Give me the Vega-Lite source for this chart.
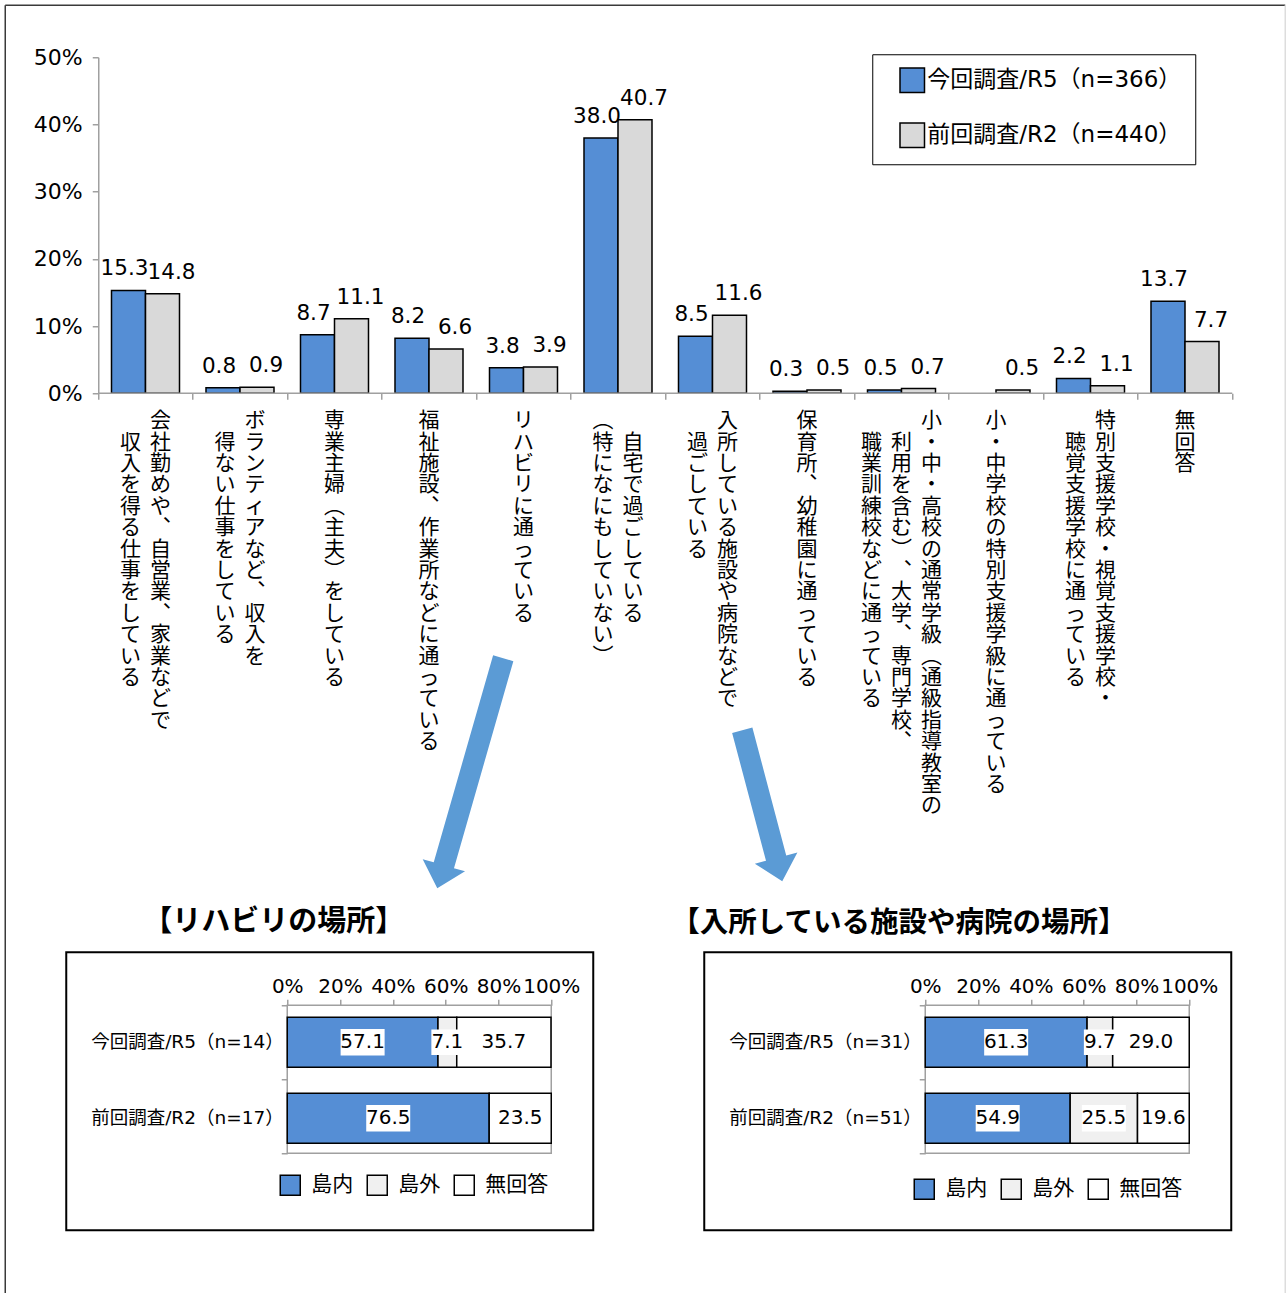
{
  "$schema": "https://vega.github.io/schema/vega-lite/v6.json",
  "background": "white",
  "padding": {"left": 4.25, "top": 4.25, "right": 0, "bottom": 0},
  "config": {
    "font": "DejaVu Sans, Noto Sans CJK JP",
    "view": {"stroke": null},
    "axis": {"labelColor": "#000000", "tickColor": "#a0a0a0", "domainColor": "#a0a0a0", "tickWidth": 1.5, "domainWidth": 1.5, "labelOverlap": false, "labelFlush": false, "labelBound": false, "grid": false},
    "legend": {"labelColor": "#000000"}
  },
  "datasets": {
    "top": [
      {"item": "会社勤めや、自営業、家業などで収入を得る仕事をしている", "series": "今回調査/R5（n=366）", "value": 15.3},
      {"item": "会社勤めや、自営業、家業などで収入を得る仕事をしている", "series": "前回調査/R2（n=440）", "value": 14.8},
      {"item": "ボランティアなど、収入を得ない仕事をしている", "series": "今回調査/R5（n=366）", "value": 0.8},
      {"item": "ボランティアなど、収入を得ない仕事をしている", "series": "前回調査/R2（n=440）", "value": 0.9},
      {"item": "専業主婦（主夫）をしている", "series": "今回調査/R5（n=366）", "value": 8.7},
      {"item": "専業主婦（主夫）をしている", "series": "前回調査/R2（n=440）", "value": 11.1},
      {"item": "福祉施設、作業所などに通っている", "series": "今回調査/R5（n=366）", "value": 8.2},
      {"item": "福祉施設、作業所などに通っている", "series": "前回調査/R2（n=440）", "value": 6.6},
      {"item": "リハビリに通っている", "series": "今回調査/R5（n=366）", "value": 3.8},
      {"item": "リハビリに通っている", "series": "前回調査/R2（n=440）", "value": 3.9},
      {"item": "自宅で過ごしている（特になにもしていない）", "series": "今回調査/R5（n=366）", "value": 38.0},
      {"item": "自宅で過ごしている（特になにもしていない）", "series": "前回調査/R2（n=440）", "value": 40.7},
      {"item": "入所している施設や病院などで過ごしている", "series": "今回調査/R5（n=366）", "value": 8.5},
      {"item": "入所している施設や病院などで過ごしている", "series": "前回調査/R2（n=440）", "value": 11.6},
      {"item": "保育所、幼稚園に通っている", "series": "今回調査/R5（n=366）", "value": 0.3},
      {"item": "保育所、幼稚園に通っている", "series": "前回調査/R2（n=440）", "value": 0.5},
      {"item": "小・中・高校の通常学級（通級指導教室の利用を含む）、大学、専門学校、職業訓練校などに通っている", "series": "今回調査/R5（n=366）", "value": 0.5},
      {"item": "小・中・高校の通常学級（通級指導教室の利用を含む）、大学、専門学校、職業訓練校などに通っている", "series": "前回調査/R2（n=440）", "value": 0.7},
      {"item": "小・中学校の特別支援学級に通っている", "series": "前回調査/R2（n=440）", "value": 0.5},
      {"item": "特別支援学校・視覚支援学校・聴覚支援学校に通っている", "series": "今回調査/R5（n=366）", "value": 2.2},
      {"item": "特別支援学校・視覚支援学校・聴覚支援学校に通っている", "series": "前回調査/R2（n=440）", "value": 1.1},
      {"item": "無回答", "series": "今回調査/R5（n=366）", "value": 13.7},
      {"item": "無回答", "series": "前回調査/R2（n=440）", "value": 7.7}
    ],
    "labels": [
      {"item": "会社勤めや、自営業、家業などで収入を得る仕事をしている", "line": 0, "t": "会社勤めや、自営業、家業などで"},
      {"item": "会社勤めや、自営業、家業などで収入を得る仕事をしている", "line": 1, "t": "収入を得る仕事をしている"},
      {"item": "ボランティアなど、収入を得ない仕事をしている", "line": 0, "t": "ボランティアなど、収入を"},
      {"item": "ボランティアなど、収入を得ない仕事をしている", "line": 1, "t": "得ない仕事をしている"},
      {"item": "専業主婦（主夫）をしている", "line": 0, "t": "専業主婦（主夫）をしている"},
      {"item": "福祉施設、作業所などに通っている", "line": 0, "t": "福祉施設、作業所などに通っている"},
      {"item": "リハビリに通っている", "line": 0, "t": "リハビリに通っている"},
      {"item": "自宅で過ごしている（特になにもしていない）", "line": 0, "t": "自宅で過ごしている"},
      {"item": "自宅で過ごしている（特になにもしていない）", "line": 1, "t": "（特になにもしていない）"},
      {"item": "入所している施設や病院などで過ごしている", "line": 0, "t": "入所している施設や病院などで"},
      {"item": "入所している施設や病院などで過ごしている", "line": 1, "t": "過ごしている"},
      {"item": "保育所、幼稚園に通っている", "line": 0, "t": "保育所、幼稚園に通っている"},
      {"item": "小・中・高校の通常学級（通級指導教室の利用を含む）、大学、専門学校、職業訓練校などに通っている", "line": 0, "t": "小・中・高校の通常学級（通級指導教室の"},
      {"item": "小・中・高校の通常学級（通級指導教室の利用を含む）、大学、専門学校、職業訓練校などに通っている", "line": 1, "t": "利用を含む）、大学、専門学校、"},
      {"item": "小・中・高校の通常学級（通級指導教室の利用を含む）、大学、専門学校、職業訓練校などに通っている", "line": 2, "t": "職業訓練校などに通っている"},
      {"item": "小・中学校の特別支援学級に通っている", "line": 0, "t": "小・中学校の特別支援学級に通っている"},
      {"item": "特別支援学校・視覚支援学校・聴覚支援学校に通っている", "line": 0, "t": "特別支援学校・視覚支援学校・"},
      {"item": "特別支援学校・視覚支援学校・聴覚支援学校に通っている", "line": 1, "t": "聴覚支援学校に通っている"},
      {"item": "無回答", "line": 0, "t": "無回答"}
    ],
    "rehab": [
      {"group": "今回調査/R5（n=14）", "cat": "島内", "value": 57.1},
      {"group": "今回調査/R5（n=14）", "cat": "島外", "value": 7.1},
      {"group": "今回調査/R5（n=14）", "cat": "無回答", "value": 35.7},
      {"group": "前回調査/R2（n=17）", "cat": "島内", "value": 76.5},
      {"group": "前回調査/R2（n=17）", "cat": "無回答", "value": 23.5}
    ],
    "facility": [
      {"group": "今回調査/R5（n=31）", "cat": "島内", "value": 61.3},
      {"group": "今回調査/R5（n=31）", "cat": "島外", "value": 9.7},
      {"group": "今回調査/R5（n=31）", "cat": "無回答", "value": 29.0},
      {"group": "前回調査/R2（n=51）", "cat": "島内", "value": 54.9},
      {"group": "前回調査/R2（n=51）", "cat": "島外", "value": 25.5},
      {"group": "前回調査/R2（n=51）", "cat": "無回答", "value": 19.6}
    ]
  },
  "bounds": "flush",
  "spacing": 559,
  "resolve": {"scale": {"color": "independent"}, "legend": {"color": "independent"}},
  "vconcat": [
    {
      "width": 1166,
      "height": 336,
      "resolve": {"scale": {"x": "independent"}},
      "layer": [
        {
          "layer": [
            {
              "data": {"name": "top"},
              "mark": {"type": "bar", "stroke": "#000000", "strokeWidth": 1.5},
              "encoding": {
                "x": {"field": "item", "type": "nominal", "scale": {"domain": ["会社勤めや、自営業、家業などで収入を得る仕事をしている", "ボランティアなど、収入を得ない仕事をしている", "専業主婦（主夫）をしている", "福祉施設、作業所などに通っている", "リハビリに通っている", "自宅で過ごしている（特になにもしていない）", "入所している施設や病院などで過ごしている", "保育所、幼稚園に通っている", "小・中・高校の通常学級（通級指導教室の利用を含む）、大学、専門学校、職業訓練校などに通っている", "小・中学校の特別支援学級に通っている", "特別支援学校・視覚支援学校・聴覚支援学校に通っている", "無回答"], "paddingInner": 0.28042, "paddingOuter": 0.30952, "align": 0.7735},
                  "axis": {"orient": "bottom", "title": null, "labels": false, "domain": false, "ticks": false}},
                "xOffset": {"field": "series", "type": "nominal", "scale": {"domain": ["今回調査/R5（n=366）", "前回調査/R2（n=440）"], "paddingInner": 0, "paddingOuter": 0}},
                "y": {"field": "value", "type": "quantitative", "scale": {"domain": [0, 50], "nice": false, "zero": false},
                  "axis": {"orient": "left", "title": null, "offset": -32, "values": [0, 10, 20, 30, 40, 50], "labelExpr": "datum.value + '%'", "tickSize": 6, "labelFontSize": 22, "labelPadding": 10}},
                "color": {"field": "series", "type": "nominal", "scale": {"domain": ["今回調査/R5（n=366）", "前回調査/R2（n=440）"], "range": ["#558ed5", "#d9d9d9"]},
                  "legend": {"orient": "none", "legendX": 806, "legendY": -3, "direction": "vertical", "title": null, "strokeColor": "#000000", "padding": 13, "symbolType": "square", "symbolSize": 600, "symbolStrokeColor": "#000000", "symbolStrokeWidth": 1.5, "symbolOffset": 14, "labelOffset": 2, "labelFontSize": 23, "labelLimit": 400, "rowPadding": 23, "labelExpr": "datum.label + '　'"}}
              }
            },
            {
              "data": {"name": "top"},
              "transform": [{"filter": "datum.series == '今回調査/R5（n=366）'"}],
              "mark": {"type": "text", "baseline": "alphabetic", "dy": -15, "dx": -4, "fontSize": 21.5, "color": "#000000"},
              "encoding": {
                "x": {"field": "item", "type": "nominal"},
                "xOffset": {"field": "series", "type": "nominal"},
                "y": {"field": "value", "type": "quantitative"},
                "text": {"field": "value", "type": "quantitative", "format": ".1f"}
              }
            },
            {
              "data": {"name": "top"},
              "transform": [{"filter": "datum.series == '前回調査/R2（n=440）'"}],
              "mark": {"type": "text", "baseline": "alphabetic", "dy": -15, "dx": 9, "fontSize": 21.5, "color": "#000000"},
              "encoding": {
                "x": {"field": "item", "type": "nominal"},
                "xOffset": {"field": "series", "type": "nominal"},
                "y": {"field": "value", "type": "quantitative"},
                "text": {"field": "value", "type": "quantitative", "format": ".1f"}
              }
            },
            {
              "data": {"name": "labels"},
              "transform": [
                {"calculate": "length(datum.t)", "as": "len"},
                {"joinaggregate": [{"op": "max", "field": "len", "as": "maxlen"}, {"op": "count", "as": "ncols"}], "groupby": ["item"]},
                {"calculate": "(datum.ncols - 1) / 2 - datum.line", "as": "off"},
                {"calculate": "split(pad('', floor((datum.maxlen - datum.len) / 2), '　') + replace(replace(replace(datum.t, regexp('、', 'g'), '︑'), regexp('（', 'g'), '︵'), regexp('）', 'g'), '︶'), '')", "as": "vt"}
              ],
              "encoding": {
                "x": {"field": "item", "type": "nominal"},
                "y": {"datum": 0, "type": "quantitative"},
                "text": {"field": "vt", "type": "nominal"}
              },
              "layer": [
                {"transform": [{"filter": "datum.off == 1"}], "mark": {"type": "text", "font": "Noto Sans CJK JP", "fontSize": 21, "lineHeight": 21.4, "baseline": "top", "align": "center", "dy": 17, "dx": 30, "color": "#000000"}},
                {"transform": [{"filter": "datum.off == 0.5"}], "mark": {"type": "text", "font": "Noto Sans CJK JP", "fontSize": 21, "lineHeight": 21.4, "baseline": "top", "align": "center", "dy": 17, "dx": 15, "color": "#000000"}},
                {"transform": [{"filter": "datum.off == 0"}], "mark": {"type": "text", "font": "Noto Sans CJK JP", "fontSize": 21, "lineHeight": 21.4, "baseline": "top", "align": "center", "dy": 17, "dx": 0, "color": "#000000"}},
                {"transform": [{"filter": "datum.off == -0.5"}], "mark": {"type": "text", "font": "Noto Sans CJK JP", "fontSize": 21, "lineHeight": 21.4, "baseline": "top", "align": "center", "dy": 17, "dx": -15, "color": "#000000"}},
                {"transform": [{"filter": "datum.off == -1"}], "mark": {"type": "text", "font": "Noto Sans CJK JP", "fontSize": 21, "lineHeight": 21.4, "baseline": "top", "align": "center", "dy": 17, "dx": -30, "color": "#000000"}}
              ]
            }
          ]
        },
        {
          "data": {"values": [{}]},
          "layer": [
            {
              "mark": {"type": "rule", "color": "#a0a0a0", "strokeWidth": 1.5},
              "encoding": {
                "x": {"datum": 0, "type": "quantitative", "scale": {"domain": [-0.33862, 12], "nice": false, "zero": false},
                  "axis": {"orient": "bottom", "title": null, "values": [0, 1, 2, 3, 4, 5, 6, 7, 8, 9, 10, 11, 12], "labels": false, "domain": false, "ticks": true, "tickSize": 6, "grid": false}},
                "x2": {"datum": 12},
                "y": {"datum": 0, "type": "quantitative"}
              }
            },
            {
              "mark": {"type": "rule", "color": "#3a3a3a", "strokeWidth": 1.5},
              "encoding": {
                "x": {"datum": -0.98413, "type": "quantitative", "scale": {"domain": [-0.33862, 12], "nice": false, "zero": false}},
                "x2": {"datum": 12.561},
                "y": {"datum": 57.738, "type": "quantitative"}
              }
            },
            {
              "mark": {"type": "rule", "color": "#3a3a3a", "strokeWidth": 1.5},
              "encoding": {
                "x": {"datum": -0.98413, "type": "quantitative", "scale": {"domain": [-0.33862, 12], "nice": false, "zero": false}},
                "y": {"datum": 57.738, "type": "quantitative"},
                "y2": {"datum": -134}
              }
            },
            {
              "mark": {"type": "rule", "color": "#dddddd", "strokeWidth": 1.5},
              "encoding": {
                "x": {"datum": 12.561, "type": "quantitative", "scale": {"domain": [-0.33862, 12], "nice": false, "zero": false}},
                "y": {"datum": 57.738, "type": "quantitative"},
                "y2": {"datum": -134}
              }
            },
            {
              "mark": {"type": "point", "shape": "M-0.088,-1L0.088,-1L0.088,0.8L0.184,0.8L0,1L-0.184,0.8L-0.088,0.8Z", "size": 57264, "angle": 16, "filled": true, "color": "#5b9bd5", "opacity": 1, "strokeWidth": 0},
              "encoding": {
                "x": {"datum": 3.9365, "type": "quantitative", "scale": {"domain": [-0.33862, 12], "nice": false, "zero": false}},
                "y": {"datum": -56.548, "type": "quantitative"}
              }
            },
            {
              "mark": {"type": "point", "shape": "M-0.134,-1L0.134,-1L0.134,0.693L0.282,0.693L0,1L-0.282,0.693L-0.134,0.693Z", "size": 24398, "angle": -14.84, "filled": true, "color": "#5b9bd5", "opacity": 1, "strokeWidth": 0},
              "encoding": {
                "x": {"datum": 7.0265, "type": "quantitative", "scale": {"domain": [-0.33862, 12], "nice": false, "zero": false}},
                "y": {"datum": -61.384, "type": "quantitative"}
              }
            }
          ]
        }
      ]
    },
    {
      "bounds": "flush",
      "spacing": 111,
      "resolve": {"scale": {"color": "independent"}, "legend": {"color": "independent"}},
      "hconcat": [
        {
          "width": 527,
          "height": 278,
          "view": {"stroke": "#000000", "strokeWidth": 2},
          "title": {"text": "【リハビリの場所】", "anchor": "start", "frame": "group", "dx": 77, "offset": -14, "baseline": "bottom", "font": "Noto Sans CJK JP", "fontSize": 29, "fontWeight": "bold", "color": "#000000"},
          "resolve": {"scale": {"y": "independent"}},
          "layer": [
            {
              "data": {"values": [{}]},
              "mark": {"type": "rect", "fillOpacity": 0, "stroke": "#a0a0a0", "strokeWidth": 1.5},
              "encoding": {
                "x": {"datum": 0, "type": "quantitative", "scale": {"domain": [-83.71, 115.91], "nice": false, "zero": false}},
                "x2": {"datum": 100},
                "y": {"datum": 0, "type": "quantitative", "scale": {"domain": [-0.35811, 1.52027], "nice": false, "zero": false, "reverse": true},
                  "axis": {"orient": "left", "title": null, "offset": -221, "values": [0, 0.5, 1], "labels": false, "domain": false, "ticks": true, "tickSize": 6, "grid": false}},
                "y2": {"datum": 1}
              }
            },
            {
              "data": {"name": "rehab"},
              "transform": [
                {"calculate": "indexof(['島内', '島外', '無回答'], datum.cat)", "as": "ord"},
                {"stack": "value", "groupby": ["group"], "sort": [{"field": "ord", "order": "ascending"}], "as": ["v0", "v1"]},
                {"calculate": "(datum.v0 + datum.v1) / 2", "as": "mid"},
                {"calculate": "format(datum.value, '.1f')", "as": "lab"}
              ],
              "layer": [
                {
                  "mark": {"type": "bar", "stroke": "#000000", "strokeWidth": 1.5},
                  "encoding": {
                    "x": {"field": "v0", "type": "quantitative", "scale": {"domain": [-83.71, 115.91], "nice": false, "zero": false},
                      "axis": {"orient": "top", "title": null, "offset": -53, "values": [0, 20, 40, 60, 80, 100], "labelExpr": "datum.value + '%'", "domain": false, "tickSize": 6, "labelFontSize": 20, "labelPadding": 3}},
                    "x2": {"field": "v1"},
                    "y": {"field": "group", "type": "nominal", "sort": null, "scale": {"paddingInner": 0.34211, "paddingOuter": 1.0, "align": 0.42763},
                      "axis": {"orient": "left", "title": null, "offset": -221, "domain": false, "ticks": false, "labelFontSize": 18.5, "labelPadding": 4, "labelLimit": 300}},
                    "color": {"field": "cat", "type": "nominal", "scale": {"domain": ["島内", "島外", "無回答"], "range": ["#558ed5", "#f0f0f0", "#ffffff"]},
                      "legend": {"orient": "none", "legendX": 213, "legendY": 222, "direction": "horizontal", "title": null, "symbolType": "square", "symbolSize": 400, "symbolStrokeColor": "#000000", "symbolStrokeWidth": 1.5, "labelFontSize": 21, "labelFont": "Noto Sans CJK JP", "labelOffset": 10, "columnPadding": 11, "padding": 0}}
                  }
                },
                {
                  "transform": [{"filter": "length(datum.lab) >= 4"}],
                  "mark": {"type": "point", "shape": "M-1,-0.6L1,-0.6L1,0.6L-1,0.6Z", "size": 1936, "filled": true, "color": "#ffffff", "opacity": 1, "strokeWidth": 0},
                  "encoding": {
                    "x": {"field": "mid", "type": "quantitative"},
                    "y": {"field": "group", "type": "nominal", "sort": null}
                  }
                },
                {
                  "transform": [{"filter": "length(datum.lab) < 4"}],
                  "mark": {"type": "point", "shape": "M-1,-0.8L1,-0.8L1,0.8L-1,0.8Z", "size": 1024, "filled": true, "color": "#ffffff", "opacity": 1, "strokeWidth": 0},
                  "encoding": {
                    "x": {"field": "mid", "type": "quantitative"},
                    "y": {"field": "group", "type": "nominal", "sort": null}
                  }
                },
                {
                  "mark": {"type": "text", "fontSize": 20, "color": "#000000"},
                  "encoding": {
                    "x": {"field": "mid", "type": "quantitative"},
                    "y": {"field": "group", "type": "nominal", "sort": null},
                    "text": {"field": "lab", "type": "nominal"}
                  }
                }
              ]
            }
          ]
        },
        {
          "width": 527,
          "height": 278,
          "view": {"stroke": "#000000", "strokeWidth": 2},
          "title": {"text": "【入所している施設や病院の場所】", "anchor": "start", "frame": "group", "dx": -33, "offset": -14, "baseline": "bottom", "font": "Noto Sans CJK JP", "fontSize": 28.5, "fontWeight": "bold", "color": "#000000"},
          "resolve": {"scale": {"y": "independent"}},
          "layer": [
            {
              "data": {"values": [{}]},
              "mark": {"type": "rect", "fillOpacity": 0, "stroke": "#a0a0a0", "strokeWidth": 1.5},
              "encoding": {
                "x": {"datum": 0, "type": "quantitative", "scale": {"domain": [-83.71, 115.91], "nice": false, "zero": false}},
                "x2": {"datum": 100},
                "y": {"datum": 0, "type": "quantitative", "scale": {"domain": [-0.35811, 1.52027], "nice": false, "zero": false, "reverse": true},
                  "axis": {"orient": "left", "title": null, "offset": -221, "values": [0, 0.5, 1], "labels": false, "domain": false, "ticks": true, "tickSize": 6, "grid": false}},
                "y2": {"datum": 1}
              }
            },
            {
              "data": {"name": "facility"},
              "transform": [
                {"calculate": "indexof(['島内', '島外', '無回答'], datum.cat)", "as": "ord"},
                {"stack": "value", "groupby": ["group"], "sort": [{"field": "ord", "order": "ascending"}], "as": ["v0", "v1"]},
                {"calculate": "(datum.v0 + datum.v1) / 2", "as": "mid"},
                {"calculate": "format(datum.value, '.1f')", "as": "lab"}
              ],
              "layer": [
                {
                  "mark": {"type": "bar", "stroke": "#000000", "strokeWidth": 1.5},
                  "encoding": {
                    "x": {"field": "v0", "type": "quantitative", "scale": {"domain": [-83.71, 115.91], "nice": false, "zero": false},
                      "axis": {"orient": "top", "title": null, "offset": -53, "values": [0, 20, 40, 60, 80, 100], "labelExpr": "datum.value + '%'", "domain": false, "tickSize": 6, "labelFontSize": 20, "labelPadding": 3}},
                    "x2": {"field": "v1"},
                    "y": {"field": "group", "type": "nominal", "sort": null, "scale": {"paddingInner": 0.34211, "paddingOuter": 1.0, "align": 0.42763},
                      "axis": {"orient": "left", "title": null, "offset": -221, "domain": false, "ticks": false, "labelFontSize": 18.5, "labelPadding": 4, "labelLimit": 300}},
                    "color": {"field": "cat", "type": "nominal", "scale": {"domain": ["島内", "島外", "無回答"], "range": ["#558ed5", "#f0f0f0", "#ffffff"]},
                      "legend": {"orient": "none", "legendX": 209, "legendY": 226, "direction": "horizontal", "title": null, "symbolType": "square", "symbolSize": 400, "symbolStrokeColor": "#000000", "symbolStrokeWidth": 1.5, "labelFontSize": 21, "labelFont": "Noto Sans CJK JP", "labelOffset": 10, "columnPadding": 11, "padding": 0}}
                  }
                },
                {
                  "transform": [{"filter": "length(datum.lab) >= 4"}],
                  "mark": {"type": "point", "shape": "M-1,-0.6L1,-0.6L1,0.6L-1,0.6Z", "size": 1936, "filled": true, "color": "#ffffff", "opacity": 1, "strokeWidth": 0},
                  "encoding": {
                    "x": {"field": "mid", "type": "quantitative"},
                    "y": {"field": "group", "type": "nominal", "sort": null}
                  }
                },
                {
                  "transform": [{"filter": "length(datum.lab) < 4"}],
                  "mark": {"type": "point", "shape": "M-1,-0.8L1,-0.8L1,0.8L-1,0.8Z", "size": 1024, "filled": true, "color": "#ffffff", "opacity": 1, "strokeWidth": 0},
                  "encoding": {
                    "x": {"field": "mid", "type": "quantitative"},
                    "y": {"field": "group", "type": "nominal", "sort": null}
                  }
                },
                {
                  "mark": {"type": "text", "fontSize": 20, "color": "#000000"},
                  "encoding": {
                    "x": {"field": "mid", "type": "quantitative"},
                    "y": {"field": "group", "type": "nominal", "sort": null},
                    "text": {"field": "lab", "type": "nominal"}
                  }
                }
              ]
            }
          ]
        }
      ]
    }
  ]
}
